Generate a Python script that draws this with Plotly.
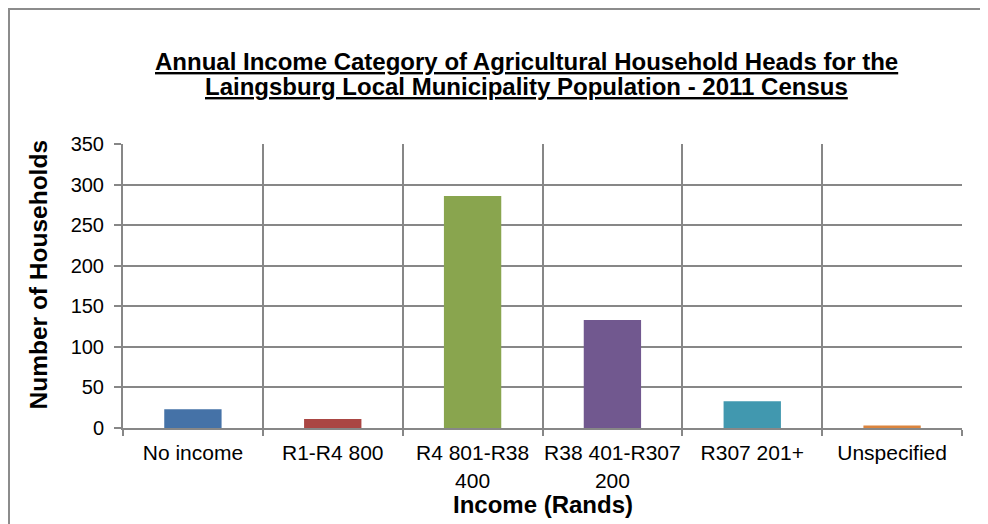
import plotly.graph_objects as go

categories = ["No income", "R1-R4 800", "R4 801-R38<br>400", "R38 401-R307<br>200", "R307 201+", "Unspecified"]
households = [23, 11, 286, 133, 33, 3]
bar_colors = ["#4572A7", "#AA4643", "#89A54E", "#71588F", "#4198AF", "#DB843D"]
y_ticks = [0, 50, 100, 150, 200, 250, 300, 350]
title_lines = [
    "Annual Income Category of Agricultural Household Heads for the",
    "Laingsburg Local Municipality Population - 2011 Census",
]

# the page places the figure 8px from the top-left corner of the window
OFF = 8
W, H = 988 - OFF, 524 - OFF
L, R, T, B = 123 - OFF, 26, 144 - OFF, 96
pw, ph = W - L - R, H - T - B

def px_x(p):
    return (p - OFF - L) / pw

def px_y(p):
    return (H - B - (p - OFF)) / ph

fig = go.Figure(go.Bar(
    x=categories, y=households, marker_color=bar_colors, width=0.41,
    marker_line_width=0,
))

grid = "#878787"
font = "Liberation Sans, Arial, sans-serif"

fig.update_layout(
    width=W, height=H,
    margin=dict(l=L, r=R, t=T, b=B, pad=0, autoexpand=False),
    paper_bgcolor="white", plot_bgcolor="white",
    showlegend=False,
    font=dict(family=font, size=20, color="#000000"),
    xaxis=dict(
        type="category", tickson="boundaries", showgrid=True, gridcolor=grid, gridwidth=2,
        showline=True, linecolor=grid, linewidth=2, mirror=False,
        ticks="outside", ticklen=6, tickcolor=grid, tickwidth=2,
        tickfont=dict(size=21, family=font, color="#000000"),
        tickangle=0, automargin=False, ticklabelstandoff=5,
        range=[-0.5, 5.5],
    ),
    yaxis=dict(
        range=[0, 350], tickvals=y_ticks, showgrid=True, gridcolor=grid, gridwidth=2,
        showline=True, linecolor=grid, linewidth=2,
        ticks="outside", ticklen=7, tickcolor=grid, tickwidth=2,
        tickfont=dict(size=20, family=font, color="#000000"),
        zeroline=False, automargin=False, ticklabelstandoff=6,
    ),
    bargap=0.59,
)

for line, yc in zip(title_lines, [61, 87]):
    fig.add_annotation(
        text=f"<b><u>{line}</u></b>",
        xref="paper", yref="paper", x=px_x(526), y=px_y(yc),
        xanchor="center", yanchor="middle", showarrow=False,
        font=dict(size=24, family=font, color="#000000"),
    )
fig.add_annotation(
    text="<b>Number of Households</b>", textangle=-90,
    xref="paper", yref="paper", x=px_x(38), y=px_y(274.5),
    xanchor="center", yanchor="middle", showarrow=False,
    font=dict(size=24.5, family=font, color="#000000"),
)
fig.add_annotation(
    text="<b>Income (Rands)</b>",
    xref="paper", yref="paper", x=px_x(543), y=px_y(504),
    xanchor="center", yanchor="middle", showarrow=False,
    font=dict(size=24, family=font, color="#000000"),
)
# outer chart border (cropped at right and bottom)
fig.add_shape(
    type="rect", xref="paper", yref="paper",
    x0=px_x(9), y0=px_y(560), x1=px_x(1030), y1=px_y(9),
    line=dict(color="#8C8C8C", width=2), fillcolor="rgba(0,0,0,0)", layer="below",
)

fig.write_html("out.html")
